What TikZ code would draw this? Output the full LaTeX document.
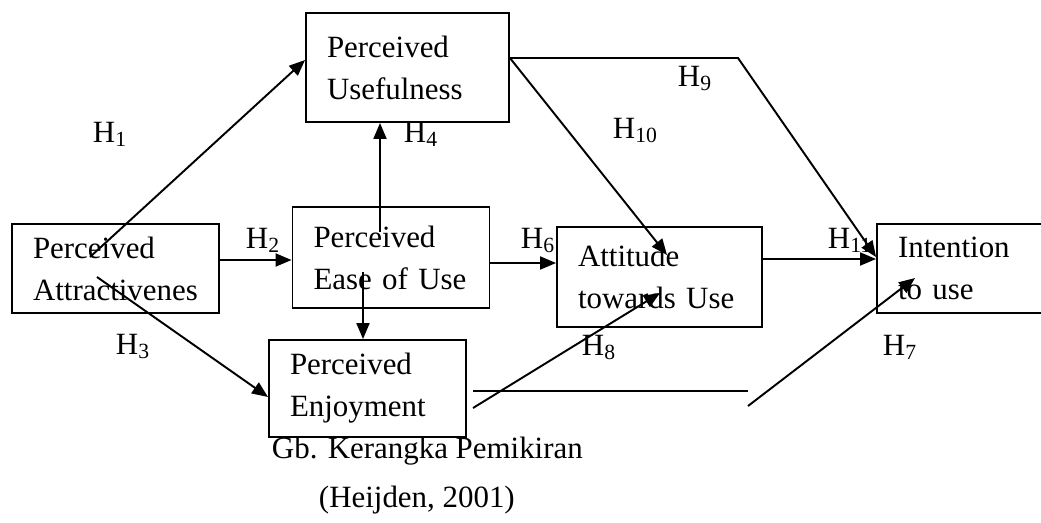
\documentclass[tikz,border=0pt]{standalone}
\usepackage{fontspec}
\setmainfont{Liberation Serif}
\usetikzlibrary{arrows.meta}

\begin{document}
\begin{tikzpicture}[x=0.02cm, y=-0.02cm, line width=1.1pt,
    blok/.style={draw, line width=1.1pt, inner xsep=0.42cm, inner ysep=0pt, align=left,
      font=\fontsize{17.6}{24}\selectfont},
    hlab/.style={anchor=base west, inner sep=0pt, font=\fontsize{17.6}{24}\selectfont},
    arr/.style={-{Triangle[length=0.32cm, width=0.26cm]}}]
  \useasboundingbox (0,0) rectangle (1041,522);
  \node[blok, text width=3.22cm, minimum height=2.18cm] (pu) at (407.5,67.5) {Perceived\\Usefulness};
  \node[blok, text width=3.10cm, minimum height=2.02cm] (peou) at (391,257.5) {Perceived\\Ease of Use};
  \node[blok, text width=3.30cm, minimum height=1.78cm] (pa) at (115.5,268.5) {Perceived\\Attractivenes};
  \node[blok, text width=3.10cm, minimum height=1.94cm] (pe) at (367.5,388.5) {Perceived\\Enjoyment};
  \node[blok, text width=3.26cm, minimum height=2.00cm] (atu) at (659.5,277) {Attitude\\towards Use};
  \node[blok, text width=2.96cm, minimum height=1.78cm] (itu) at (972,268.5) {Intention\\to use};
  \coordinate (s1) at (90,257);
  \coordinate (s3) at (97,277);
  \coordinate (s4) at (380,232);
  \coordinate (s5) at (363,272);
  \coordinate (k9) at (738,58);
  \coordinate (t10) at (667,255);
  \coordinate (s8) at (473,408);
  \coordinate (t8) at (660,293);
  \coordinate (g1) at (473,391);
  \coordinate (g2) at (748,391);
  \coordinate (s7) at (748,406);
  \coordinate (t7) at (915,278);
  \draw[arr] (s1) -- ([yshift=0.15cm]pu.west);
  \draw[arr] ([yshift=-0.05cm]pa.east |- peou.west) -- ([yshift=-0.05cm]peou.west);
  \draw[arr] (s3) -- ([yshift=-0.17cm]pe.west);
  \draw[arr] (s4) -- (s4 |- pu.south);
  \draw[arr] (s5) -- (s5 |- pe.north);
  \draw[arr] ([yshift=-0.11cm]peou.east) -- ([yshift=-0.11cm]peou.east -| atu.west);
  \draw[arr] ([yshift=0.19cm]itu.west -| atu.east) -- ([yshift=0.19cm]itu.west);
  \draw[arr] ([yshift=0.19cm]pu.east) -- (k9) -- ([yshift=0.23cm]itu.west);
  \draw[arr] ([yshift=0.19cm]pu.east) -- (t10);
  \draw[arr] (s8) -- (t8);
  \draw (g1) -- (g2);
  \draw[arr] (s7) -- (t7);
  \node[hlab] (h1) at (92,142) {H\textsubscript{1}};
  \node[hlab] (h2) at (245,248) {H\textsubscript{2}};
  \node[hlab] (h3) at (115,354) {H\textsubscript{3}};
  \node[hlab] (h4) at (403,142) {H\textsubscript{4}};
  \node[hlab] (h6) at (520,248) {H\textsubscript{6}};
  \node[hlab] (h7) at (882,355) {H\textsubscript{7}};
  \node[hlab] (h8) at (581,355) {H\textsubscript{8}};
  \node[hlab] (h9) at (677,86) {H\textsubscript{9}};
  \node[hlab] (h10) at (612,138) {H\textsubscript{10}};
  \node[hlab] (h11) at (827,248) {H\textsubscript{11}};
  \node[hlab] (cap) at (271,458) {Gb. Kerangka Pemikiran};
  \node[hlab] (src) at (318,507) {(Heijden, 2001)};
\end{tikzpicture}
\end{document}
